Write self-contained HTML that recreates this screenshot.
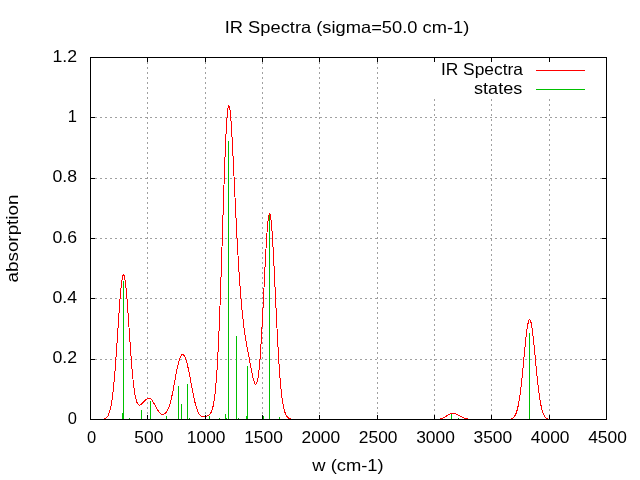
<!DOCTYPE html>
<html><head><meta charset="utf-8"><style>
html,body{margin:0;padding:0;background:#fff;}
svg{display:block;will-change:transform;}
text{font-family:"Liberation Sans",sans-serif;font-size:16.5px;fill:#000;}
</style></head><body>
<svg width="640" height="480" viewBox="0 0 640 480">
<rect width="640" height="480" fill="#fff"/>
<path d="M91 359h1v1h-1zM95 359h2v1h-2zM100 359h2v1h-2zM105 359h2v1h-2zM110 359h2v1h-2zM115 359h2v1h-2zM120 359h2v1h-2zM125 359h2v1h-2zM130 359h2v1h-2zM135 359h2v1h-2zM140 359h2v1h-2zM145 359h2v1h-2zM150 359h2v1h-2zM155 359h2v1h-2zM160 359h2v1h-2zM165 359h2v1h-2zM170 359h2v1h-2zM175 359h2v1h-2zM180 359h2v1h-2zM185 359h2v1h-2zM190 359h2v1h-2zM195 359h2v1h-2zM200 359h2v1h-2zM205 359h2v1h-2zM210 359h2v1h-2zM215 359h2v1h-2zM220 359h2v1h-2zM225 359h2v1h-2zM230 359h2v1h-2zM235 359h2v1h-2zM240 359h2v1h-2zM245 359h2v1h-2zM250 359h2v1h-2zM255 359h2v1h-2zM260 359h2v1h-2zM265 359h2v1h-2zM270 359h2v1h-2zM275 359h2v1h-2zM280 359h2v1h-2zM285 359h2v1h-2zM290 359h2v1h-2zM295 359h2v1h-2zM300 359h2v1h-2zM305 359h2v1h-2zM310 359h2v1h-2zM315 359h2v1h-2zM320 359h2v1h-2zM325 359h2v1h-2zM330 359h2v1h-2zM335 359h2v1h-2zM340 359h2v1h-2zM345 359h2v1h-2zM350 359h2v1h-2zM355 359h2v1h-2zM360 359h2v1h-2zM365 359h2v1h-2zM370 359h2v1h-2zM375 359h2v1h-2zM380 359h2v1h-2zM385 359h2v1h-2zM390 359h2v1h-2zM395 359h2v1h-2zM400 359h2v1h-2zM405 359h2v1h-2zM410 359h2v1h-2zM415 359h2v1h-2zM420 359h2v1h-2zM425 359h2v1h-2zM430 359h2v1h-2zM435 359h2v1h-2zM440 359h2v1h-2zM445 359h2v1h-2zM450 359h2v1h-2zM455 359h2v1h-2zM460 359h2v1h-2zM465 359h2v1h-2zM470 359h2v1h-2zM475 359h2v1h-2zM480 359h2v1h-2zM485 359h2v1h-2zM490 359h2v1h-2zM495 359h2v1h-2zM500 359h2v1h-2zM505 359h2v1h-2zM510 359h2v1h-2zM515 359h2v1h-2zM520 359h2v1h-2zM525 359h2v1h-2zM530 359h2v1h-2zM535 359h2v1h-2zM540 359h2v1h-2zM545 359h2v1h-2zM550 359h2v1h-2zM555 359h2v1h-2zM560 359h2v1h-2zM565 359h2v1h-2zM570 359h2v1h-2zM575 359h2v1h-2zM580 359h2v1h-2zM585 359h2v1h-2zM590 359h2v1h-2zM595 359h2v1h-2zM600 359h2v1h-2zM605 359h1v1h-1zM91 298h1v1h-1zM95 298h2v1h-2zM100 298h2v1h-2zM105 298h2v1h-2zM110 298h2v1h-2zM115 298h2v1h-2zM120 298h2v1h-2zM125 298h2v1h-2zM130 298h2v1h-2zM135 298h2v1h-2zM140 298h2v1h-2zM145 298h2v1h-2zM150 298h2v1h-2zM155 298h2v1h-2zM160 298h2v1h-2zM165 298h2v1h-2zM170 298h2v1h-2zM175 298h2v1h-2zM180 298h2v1h-2zM185 298h2v1h-2zM190 298h2v1h-2zM195 298h2v1h-2zM200 298h2v1h-2zM205 298h2v1h-2zM210 298h2v1h-2zM215 298h2v1h-2zM220 298h2v1h-2zM225 298h2v1h-2zM230 298h2v1h-2zM235 298h2v1h-2zM240 298h2v1h-2zM245 298h2v1h-2zM250 298h2v1h-2zM255 298h2v1h-2zM260 298h2v1h-2zM265 298h2v1h-2zM270 298h2v1h-2zM275 298h2v1h-2zM280 298h2v1h-2zM285 298h2v1h-2zM290 298h2v1h-2zM295 298h2v1h-2zM300 298h2v1h-2zM305 298h2v1h-2zM310 298h2v1h-2zM315 298h2v1h-2zM320 298h2v1h-2zM325 298h2v1h-2zM330 298h2v1h-2zM335 298h2v1h-2zM340 298h2v1h-2zM345 298h2v1h-2zM350 298h2v1h-2zM355 298h2v1h-2zM360 298h2v1h-2zM365 298h2v1h-2zM370 298h2v1h-2zM375 298h2v1h-2zM380 298h2v1h-2zM385 298h2v1h-2zM390 298h2v1h-2zM395 298h2v1h-2zM400 298h2v1h-2zM405 298h2v1h-2zM410 298h2v1h-2zM415 298h2v1h-2zM420 298h2v1h-2zM425 298h2v1h-2zM430 298h2v1h-2zM435 298h2v1h-2zM440 298h2v1h-2zM445 298h2v1h-2zM450 298h2v1h-2zM455 298h2v1h-2zM460 298h2v1h-2zM465 298h2v1h-2zM470 298h2v1h-2zM475 298h2v1h-2zM480 298h2v1h-2zM485 298h2v1h-2zM490 298h2v1h-2zM495 298h2v1h-2zM500 298h2v1h-2zM505 298h2v1h-2zM510 298h2v1h-2zM515 298h2v1h-2zM520 298h2v1h-2zM525 298h2v1h-2zM530 298h2v1h-2zM535 298h2v1h-2zM540 298h2v1h-2zM545 298h2v1h-2zM550 298h2v1h-2zM555 298h2v1h-2zM560 298h2v1h-2zM565 298h2v1h-2zM570 298h2v1h-2zM575 298h2v1h-2zM580 298h2v1h-2zM585 298h2v1h-2zM590 298h2v1h-2zM595 298h2v1h-2zM600 298h2v1h-2zM605 298h1v1h-1zM91 238h1v1h-1zM95 238h2v1h-2zM100 238h2v1h-2zM105 238h2v1h-2zM110 238h2v1h-2zM115 238h2v1h-2zM120 238h2v1h-2zM125 238h2v1h-2zM130 238h2v1h-2zM135 238h2v1h-2zM140 238h2v1h-2zM145 238h2v1h-2zM150 238h2v1h-2zM155 238h2v1h-2zM160 238h2v1h-2zM165 238h2v1h-2zM170 238h2v1h-2zM175 238h2v1h-2zM180 238h2v1h-2zM185 238h2v1h-2zM190 238h2v1h-2zM195 238h2v1h-2zM200 238h2v1h-2zM205 238h2v1h-2zM210 238h2v1h-2zM215 238h2v1h-2zM220 238h2v1h-2zM225 238h2v1h-2zM230 238h2v1h-2zM235 238h2v1h-2zM240 238h2v1h-2zM245 238h2v1h-2zM250 238h2v1h-2zM255 238h2v1h-2zM260 238h2v1h-2zM265 238h2v1h-2zM270 238h2v1h-2zM275 238h2v1h-2zM280 238h2v1h-2zM285 238h2v1h-2zM290 238h2v1h-2zM295 238h2v1h-2zM300 238h2v1h-2zM305 238h2v1h-2zM310 238h2v1h-2zM315 238h2v1h-2zM320 238h2v1h-2zM325 238h2v1h-2zM330 238h2v1h-2zM335 238h2v1h-2zM340 238h2v1h-2zM345 238h2v1h-2zM350 238h2v1h-2zM355 238h2v1h-2zM360 238h2v1h-2zM365 238h2v1h-2zM370 238h2v1h-2zM375 238h2v1h-2zM380 238h2v1h-2zM385 238h2v1h-2zM390 238h2v1h-2zM395 238h2v1h-2zM400 238h2v1h-2zM405 238h2v1h-2zM410 238h2v1h-2zM415 238h2v1h-2zM420 238h2v1h-2zM425 238h2v1h-2zM430 238h2v1h-2zM435 238h2v1h-2zM440 238h2v1h-2zM445 238h2v1h-2zM450 238h2v1h-2zM455 238h2v1h-2zM460 238h2v1h-2zM465 238h2v1h-2zM470 238h2v1h-2zM475 238h2v1h-2zM480 238h2v1h-2zM485 238h2v1h-2zM490 238h2v1h-2zM495 238h2v1h-2zM500 238h2v1h-2zM505 238h2v1h-2zM510 238h2v1h-2zM515 238h2v1h-2zM520 238h2v1h-2zM525 238h2v1h-2zM530 238h2v1h-2zM535 238h2v1h-2zM540 238h2v1h-2zM545 238h2v1h-2zM550 238h2v1h-2zM555 238h2v1h-2zM560 238h2v1h-2zM565 238h2v1h-2zM570 238h2v1h-2zM575 238h2v1h-2zM580 238h2v1h-2zM585 238h2v1h-2zM590 238h2v1h-2zM595 238h2v1h-2zM600 238h2v1h-2zM605 238h1v1h-1zM91 178h1v1h-1zM95 178h2v1h-2zM100 178h2v1h-2zM105 178h2v1h-2zM110 178h2v1h-2zM115 178h2v1h-2zM120 178h2v1h-2zM125 178h2v1h-2zM130 178h2v1h-2zM135 178h2v1h-2zM140 178h2v1h-2zM145 178h2v1h-2zM150 178h2v1h-2zM155 178h2v1h-2zM160 178h2v1h-2zM165 178h2v1h-2zM170 178h2v1h-2zM175 178h2v1h-2zM180 178h2v1h-2zM185 178h2v1h-2zM190 178h2v1h-2zM195 178h2v1h-2zM200 178h2v1h-2zM205 178h2v1h-2zM210 178h2v1h-2zM215 178h2v1h-2zM220 178h2v1h-2zM225 178h2v1h-2zM230 178h2v1h-2zM235 178h2v1h-2zM240 178h2v1h-2zM245 178h2v1h-2zM250 178h2v1h-2zM255 178h2v1h-2zM260 178h2v1h-2zM265 178h2v1h-2zM270 178h2v1h-2zM275 178h2v1h-2zM280 178h2v1h-2zM285 178h2v1h-2zM290 178h2v1h-2zM295 178h2v1h-2zM300 178h2v1h-2zM305 178h2v1h-2zM310 178h2v1h-2zM315 178h2v1h-2zM320 178h2v1h-2zM325 178h2v1h-2zM330 178h2v1h-2zM335 178h2v1h-2zM340 178h2v1h-2zM345 178h2v1h-2zM350 178h2v1h-2zM355 178h2v1h-2zM360 178h2v1h-2zM365 178h2v1h-2zM370 178h2v1h-2zM375 178h2v1h-2zM380 178h2v1h-2zM385 178h2v1h-2zM390 178h2v1h-2zM395 178h2v1h-2zM400 178h2v1h-2zM405 178h2v1h-2zM410 178h2v1h-2zM415 178h2v1h-2zM420 178h2v1h-2zM425 178h2v1h-2zM430 178h2v1h-2zM435 178h2v1h-2zM440 178h2v1h-2zM445 178h2v1h-2zM450 178h2v1h-2zM455 178h2v1h-2zM460 178h2v1h-2zM465 178h2v1h-2zM470 178h2v1h-2zM475 178h2v1h-2zM480 178h2v1h-2zM485 178h2v1h-2zM490 178h2v1h-2zM495 178h2v1h-2zM500 178h2v1h-2zM505 178h2v1h-2zM510 178h2v1h-2zM515 178h2v1h-2zM520 178h2v1h-2zM525 178h2v1h-2zM530 178h2v1h-2zM535 178h2v1h-2zM540 178h2v1h-2zM545 178h2v1h-2zM550 178h2v1h-2zM555 178h2v1h-2zM560 178h2v1h-2zM565 178h2v1h-2zM570 178h2v1h-2zM575 178h2v1h-2zM580 178h2v1h-2zM585 178h2v1h-2zM590 178h2v1h-2zM595 178h2v1h-2zM600 178h2v1h-2zM605 178h1v1h-1zM91 117h1v1h-1zM95 117h2v1h-2zM100 117h2v1h-2zM105 117h2v1h-2zM110 117h2v1h-2zM115 117h2v1h-2zM120 117h2v1h-2zM125 117h2v1h-2zM130 117h2v1h-2zM135 117h2v1h-2zM140 117h2v1h-2zM145 117h2v1h-2zM150 117h2v1h-2zM155 117h2v1h-2zM160 117h2v1h-2zM165 117h2v1h-2zM170 117h2v1h-2zM175 117h2v1h-2zM180 117h2v1h-2zM185 117h2v1h-2zM190 117h2v1h-2zM195 117h2v1h-2zM200 117h2v1h-2zM205 117h2v1h-2zM210 117h2v1h-2zM215 117h2v1h-2zM220 117h2v1h-2zM225 117h2v1h-2zM230 117h2v1h-2zM235 117h2v1h-2zM240 117h2v1h-2zM245 117h2v1h-2zM250 117h2v1h-2zM255 117h2v1h-2zM260 117h2v1h-2zM265 117h2v1h-2zM270 117h2v1h-2zM275 117h2v1h-2zM280 117h2v1h-2zM285 117h2v1h-2zM290 117h2v1h-2zM295 117h2v1h-2zM300 117h2v1h-2zM305 117h2v1h-2zM310 117h2v1h-2zM315 117h2v1h-2zM320 117h2v1h-2zM325 117h2v1h-2zM330 117h2v1h-2zM335 117h2v1h-2zM340 117h2v1h-2zM345 117h2v1h-2zM350 117h2v1h-2zM355 117h2v1h-2zM360 117h2v1h-2zM365 117h2v1h-2zM370 117h2v1h-2zM375 117h2v1h-2zM380 117h2v1h-2zM385 117h2v1h-2zM390 117h2v1h-2zM395 117h2v1h-2zM400 117h2v1h-2zM405 117h2v1h-2zM410 117h2v1h-2zM415 117h2v1h-2zM420 117h2v1h-2zM425 117h2v1h-2zM430 117h2v1h-2zM435 117h2v1h-2zM440 117h2v1h-2zM445 117h2v1h-2zM450 117h2v1h-2zM455 117h2v1h-2zM460 117h2v1h-2zM465 117h2v1h-2zM470 117h2v1h-2zM475 117h2v1h-2zM480 117h2v1h-2zM485 117h2v1h-2zM490 117h2v1h-2zM495 117h2v1h-2zM500 117h2v1h-2zM505 117h2v1h-2zM510 117h2v1h-2zM515 117h2v1h-2zM520 117h2v1h-2zM525 117h2v1h-2zM530 117h2v1h-2zM535 117h2v1h-2zM540 117h2v1h-2zM545 117h2v1h-2zM550 117h2v1h-2zM555 117h2v1h-2zM560 117h2v1h-2zM565 117h2v1h-2zM570 117h2v1h-2zM575 117h2v1h-2zM580 117h2v1h-2zM585 117h2v1h-2zM590 117h2v1h-2zM595 117h2v1h-2zM600 117h2v1h-2zM605 117h1v1h-1zM147 58h1v1h-1zM147 62h1v2h-1zM147 67h1v2h-1zM147 72h1v2h-1zM147 77h1v2h-1zM147 82h1v2h-1zM147 87h1v2h-1zM147 92h1v2h-1zM147 97h1v2h-1zM147 102h1v2h-1zM147 107h1v2h-1zM147 112h1v2h-1zM147 117h1v2h-1zM147 122h1v2h-1zM147 127h1v2h-1zM147 132h1v2h-1zM147 137h1v2h-1zM147 142h1v2h-1zM147 147h1v2h-1zM147 152h1v2h-1zM147 157h1v2h-1zM147 162h1v2h-1zM147 167h1v2h-1zM147 172h1v2h-1zM147 177h1v2h-1zM147 182h1v2h-1zM147 187h1v2h-1zM147 192h1v2h-1zM147 197h1v2h-1zM147 202h1v2h-1zM147 207h1v2h-1zM147 212h1v2h-1zM147 217h1v2h-1zM147 222h1v2h-1zM147 227h1v2h-1zM147 232h1v2h-1zM147 237h1v2h-1zM147 242h1v2h-1zM147 247h1v2h-1zM147 252h1v2h-1zM147 257h1v2h-1zM147 262h1v2h-1zM147 267h1v2h-1zM147 272h1v2h-1zM147 277h1v2h-1zM147 282h1v2h-1zM147 287h1v2h-1zM147 292h1v2h-1zM147 297h1v2h-1zM147 302h1v2h-1zM147 307h1v2h-1zM147 312h1v2h-1zM147 317h1v2h-1zM147 322h1v2h-1zM147 327h1v2h-1zM147 332h1v2h-1zM147 337h1v2h-1zM147 342h1v2h-1zM147 347h1v2h-1zM147 352h1v2h-1zM147 357h1v2h-1zM147 362h1v2h-1zM147 367h1v2h-1zM147 372h1v2h-1zM147 377h1v2h-1zM147 382h1v2h-1zM147 387h1v2h-1zM147 392h1v2h-1zM147 397h1v2h-1zM147 402h1v2h-1zM147 407h1v2h-1zM147 412h1v2h-1zM147 417h1v2h-1zM205 58h1v1h-1zM205 62h1v2h-1zM205 67h1v2h-1zM205 72h1v2h-1zM205 77h1v2h-1zM205 82h1v2h-1zM205 87h1v2h-1zM205 92h1v2h-1zM205 97h1v2h-1zM205 102h1v2h-1zM205 107h1v2h-1zM205 112h1v2h-1zM205 117h1v2h-1zM205 122h1v2h-1zM205 127h1v2h-1zM205 132h1v2h-1zM205 137h1v2h-1zM205 142h1v2h-1zM205 147h1v2h-1zM205 152h1v2h-1zM205 157h1v2h-1zM205 162h1v2h-1zM205 167h1v2h-1zM205 172h1v2h-1zM205 177h1v2h-1zM205 182h1v2h-1zM205 187h1v2h-1zM205 192h1v2h-1zM205 197h1v2h-1zM205 202h1v2h-1zM205 207h1v2h-1zM205 212h1v2h-1zM205 217h1v2h-1zM205 222h1v2h-1zM205 227h1v2h-1zM205 232h1v2h-1zM205 237h1v2h-1zM205 242h1v2h-1zM205 247h1v2h-1zM205 252h1v2h-1zM205 257h1v2h-1zM205 262h1v2h-1zM205 267h1v2h-1zM205 272h1v2h-1zM205 277h1v2h-1zM205 282h1v2h-1zM205 287h1v2h-1zM205 292h1v2h-1zM205 297h1v2h-1zM205 302h1v2h-1zM205 307h1v2h-1zM205 312h1v2h-1zM205 317h1v2h-1zM205 322h1v2h-1zM205 327h1v2h-1zM205 332h1v2h-1zM205 337h1v2h-1zM205 342h1v2h-1zM205 347h1v2h-1zM205 352h1v2h-1zM205 357h1v2h-1zM205 362h1v2h-1zM205 367h1v2h-1zM205 372h1v2h-1zM205 377h1v2h-1zM205 382h1v2h-1zM205 387h1v2h-1zM205 392h1v2h-1zM205 397h1v2h-1zM205 402h1v2h-1zM205 407h1v2h-1zM205 412h1v2h-1zM205 417h1v2h-1zM262 58h1v1h-1zM262 62h1v2h-1zM262 67h1v2h-1zM262 72h1v2h-1zM262 77h1v2h-1zM262 82h1v2h-1zM262 87h1v2h-1zM262 92h1v2h-1zM262 97h1v2h-1zM262 102h1v2h-1zM262 107h1v2h-1zM262 112h1v2h-1zM262 117h1v2h-1zM262 122h1v2h-1zM262 127h1v2h-1zM262 132h1v2h-1zM262 137h1v2h-1zM262 142h1v2h-1zM262 147h1v2h-1zM262 152h1v2h-1zM262 157h1v2h-1zM262 162h1v2h-1zM262 167h1v2h-1zM262 172h1v2h-1zM262 177h1v2h-1zM262 182h1v2h-1zM262 187h1v2h-1zM262 192h1v2h-1zM262 197h1v2h-1zM262 202h1v2h-1zM262 207h1v2h-1zM262 212h1v2h-1zM262 217h1v2h-1zM262 222h1v2h-1zM262 227h1v2h-1zM262 232h1v2h-1zM262 237h1v2h-1zM262 242h1v2h-1zM262 247h1v2h-1zM262 252h1v2h-1zM262 257h1v2h-1zM262 262h1v2h-1zM262 267h1v2h-1zM262 272h1v2h-1zM262 277h1v2h-1zM262 282h1v2h-1zM262 287h1v2h-1zM262 292h1v2h-1zM262 297h1v2h-1zM262 302h1v2h-1zM262 307h1v2h-1zM262 312h1v2h-1zM262 317h1v2h-1zM262 322h1v2h-1zM262 327h1v2h-1zM262 332h1v2h-1zM262 337h1v2h-1zM262 342h1v2h-1zM262 347h1v2h-1zM262 352h1v2h-1zM262 357h1v2h-1zM262 362h1v2h-1zM262 367h1v2h-1zM262 372h1v2h-1zM262 377h1v2h-1zM262 382h1v2h-1zM262 387h1v2h-1zM262 392h1v2h-1zM262 397h1v2h-1zM262 402h1v2h-1zM262 407h1v2h-1zM262 412h1v2h-1zM262 417h1v2h-1zM319 58h1v1h-1zM319 62h1v2h-1zM319 67h1v2h-1zM319 72h1v2h-1zM319 77h1v2h-1zM319 82h1v2h-1zM319 87h1v2h-1zM319 92h1v2h-1zM319 97h1v2h-1zM319 102h1v2h-1zM319 107h1v2h-1zM319 112h1v2h-1zM319 117h1v2h-1zM319 122h1v2h-1zM319 127h1v2h-1zM319 132h1v2h-1zM319 137h1v2h-1zM319 142h1v2h-1zM319 147h1v2h-1zM319 152h1v2h-1zM319 157h1v2h-1zM319 162h1v2h-1zM319 167h1v2h-1zM319 172h1v2h-1zM319 177h1v2h-1zM319 182h1v2h-1zM319 187h1v2h-1zM319 192h1v2h-1zM319 197h1v2h-1zM319 202h1v2h-1zM319 207h1v2h-1zM319 212h1v2h-1zM319 217h1v2h-1zM319 222h1v2h-1zM319 227h1v2h-1zM319 232h1v2h-1zM319 237h1v2h-1zM319 242h1v2h-1zM319 247h1v2h-1zM319 252h1v2h-1zM319 257h1v2h-1zM319 262h1v2h-1zM319 267h1v2h-1zM319 272h1v2h-1zM319 277h1v2h-1zM319 282h1v2h-1zM319 287h1v2h-1zM319 292h1v2h-1zM319 297h1v2h-1zM319 302h1v2h-1zM319 307h1v2h-1zM319 312h1v2h-1zM319 317h1v2h-1zM319 322h1v2h-1zM319 327h1v2h-1zM319 332h1v2h-1zM319 337h1v2h-1zM319 342h1v2h-1zM319 347h1v2h-1zM319 352h1v2h-1zM319 357h1v2h-1zM319 362h1v2h-1zM319 367h1v2h-1zM319 372h1v2h-1zM319 377h1v2h-1zM319 382h1v2h-1zM319 387h1v2h-1zM319 392h1v2h-1zM319 397h1v2h-1zM319 402h1v2h-1zM319 407h1v2h-1zM319 412h1v2h-1zM319 417h1v2h-1zM377 58h1v1h-1zM377 62h1v2h-1zM377 67h1v2h-1zM377 72h1v2h-1zM377 77h1v2h-1zM377 82h1v2h-1zM377 87h1v2h-1zM377 92h1v2h-1zM377 97h1v2h-1zM377 102h1v2h-1zM377 107h1v2h-1zM377 112h1v2h-1zM377 117h1v2h-1zM377 122h1v2h-1zM377 127h1v2h-1zM377 132h1v2h-1zM377 137h1v2h-1zM377 142h1v2h-1zM377 147h1v2h-1zM377 152h1v2h-1zM377 157h1v2h-1zM377 162h1v2h-1zM377 167h1v2h-1zM377 172h1v2h-1zM377 177h1v2h-1zM377 182h1v2h-1zM377 187h1v2h-1zM377 192h1v2h-1zM377 197h1v2h-1zM377 202h1v2h-1zM377 207h1v2h-1zM377 212h1v2h-1zM377 217h1v2h-1zM377 222h1v2h-1zM377 227h1v2h-1zM377 232h1v2h-1zM377 237h1v2h-1zM377 242h1v2h-1zM377 247h1v2h-1zM377 252h1v2h-1zM377 257h1v2h-1zM377 262h1v2h-1zM377 267h1v2h-1zM377 272h1v2h-1zM377 277h1v2h-1zM377 282h1v2h-1zM377 287h1v2h-1zM377 292h1v2h-1zM377 297h1v2h-1zM377 302h1v2h-1zM377 307h1v2h-1zM377 312h1v2h-1zM377 317h1v2h-1zM377 322h1v2h-1zM377 327h1v2h-1zM377 332h1v2h-1zM377 337h1v2h-1zM377 342h1v2h-1zM377 347h1v2h-1zM377 352h1v2h-1zM377 357h1v2h-1zM377 362h1v2h-1zM377 367h1v2h-1zM377 372h1v2h-1zM377 377h1v2h-1zM377 382h1v2h-1zM377 387h1v2h-1zM377 392h1v2h-1zM377 397h1v2h-1zM377 402h1v2h-1zM377 407h1v2h-1zM377 412h1v2h-1zM377 417h1v2h-1zM434 99h1v2h-1zM434 104h1v2h-1zM434 109h1v2h-1zM434 114h1v2h-1zM434 119h1v2h-1zM434 124h1v2h-1zM434 129h1v2h-1zM434 134h1v2h-1zM434 139h1v2h-1zM434 144h1v2h-1zM434 149h1v2h-1zM434 154h1v2h-1zM434 159h1v2h-1zM434 164h1v2h-1zM434 169h1v2h-1zM434 174h1v2h-1zM434 179h1v2h-1zM434 184h1v2h-1zM434 189h1v2h-1zM434 194h1v2h-1zM434 199h1v2h-1zM434 204h1v2h-1zM434 209h1v2h-1zM434 214h1v2h-1zM434 219h1v2h-1zM434 224h1v2h-1zM434 229h1v2h-1zM434 234h1v2h-1zM434 239h1v2h-1zM434 244h1v2h-1zM434 249h1v2h-1zM434 254h1v2h-1zM434 259h1v2h-1zM434 264h1v2h-1zM434 269h1v2h-1zM434 274h1v2h-1zM434 279h1v2h-1zM434 284h1v2h-1zM434 289h1v2h-1zM434 294h1v2h-1zM434 299h1v2h-1zM434 304h1v2h-1zM434 309h1v2h-1zM434 314h1v2h-1zM434 319h1v2h-1zM434 324h1v2h-1zM434 329h1v2h-1zM434 334h1v2h-1zM434 339h1v2h-1zM434 344h1v2h-1zM434 349h1v2h-1zM434 354h1v2h-1zM434 359h1v2h-1zM434 364h1v2h-1zM434 369h1v2h-1zM434 374h1v2h-1zM434 379h1v2h-1zM434 384h1v2h-1zM434 389h1v2h-1zM434 394h1v2h-1zM434 399h1v2h-1zM434 404h1v2h-1zM434 409h1v2h-1zM434 414h1v2h-1zM491 99h1v2h-1zM491 104h1v2h-1zM491 109h1v2h-1zM491 114h1v2h-1zM491 119h1v2h-1zM491 124h1v2h-1zM491 129h1v2h-1zM491 134h1v2h-1zM491 139h1v2h-1zM491 144h1v2h-1zM491 149h1v2h-1zM491 154h1v2h-1zM491 159h1v2h-1zM491 164h1v2h-1zM491 169h1v2h-1zM491 174h1v2h-1zM491 179h1v2h-1zM491 184h1v2h-1zM491 189h1v2h-1zM491 194h1v2h-1zM491 199h1v2h-1zM491 204h1v2h-1zM491 209h1v2h-1zM491 214h1v2h-1zM491 219h1v2h-1zM491 224h1v2h-1zM491 229h1v2h-1zM491 234h1v2h-1zM491 239h1v2h-1zM491 244h1v2h-1zM491 249h1v2h-1zM491 254h1v2h-1zM491 259h1v2h-1zM491 264h1v2h-1zM491 269h1v2h-1zM491 274h1v2h-1zM491 279h1v2h-1zM491 284h1v2h-1zM491 289h1v2h-1zM491 294h1v2h-1zM491 299h1v2h-1zM491 304h1v2h-1zM491 309h1v2h-1zM491 314h1v2h-1zM491 319h1v2h-1zM491 324h1v2h-1zM491 329h1v2h-1zM491 334h1v2h-1zM491 339h1v2h-1zM491 344h1v2h-1zM491 349h1v2h-1zM491 354h1v2h-1zM491 359h1v2h-1zM491 364h1v2h-1zM491 369h1v2h-1zM491 374h1v2h-1zM491 379h1v2h-1zM491 384h1v2h-1zM491 389h1v2h-1zM491 394h1v2h-1zM491 399h1v2h-1zM491 404h1v2h-1zM491 409h1v2h-1zM491 414h1v2h-1zM549 99h1v2h-1zM549 104h1v2h-1zM549 109h1v2h-1zM549 114h1v2h-1zM549 119h1v2h-1zM549 124h1v2h-1zM549 129h1v2h-1zM549 134h1v2h-1zM549 139h1v2h-1zM549 144h1v2h-1zM549 149h1v2h-1zM549 154h1v2h-1zM549 159h1v2h-1zM549 164h1v2h-1zM549 169h1v2h-1zM549 174h1v2h-1zM549 179h1v2h-1zM549 184h1v2h-1zM549 189h1v2h-1zM549 194h1v2h-1zM549 199h1v2h-1zM549 204h1v2h-1zM549 209h1v2h-1zM549 214h1v2h-1zM549 219h1v2h-1zM549 224h1v2h-1zM549 229h1v2h-1zM549 234h1v2h-1zM549 239h1v2h-1zM549 244h1v2h-1zM549 249h1v2h-1zM549 254h1v2h-1zM549 259h1v2h-1zM549 264h1v2h-1zM549 269h1v2h-1zM549 274h1v2h-1zM549 279h1v2h-1zM549 284h1v2h-1zM549 289h1v2h-1zM549 294h1v2h-1zM549 299h1v2h-1zM549 304h1v2h-1zM549 309h1v2h-1zM549 314h1v2h-1zM549 319h1v2h-1zM549 324h1v2h-1zM549 329h1v2h-1zM549 334h1v2h-1zM549 339h1v2h-1zM549 344h1v2h-1zM549 349h1v2h-1zM549 354h1v2h-1zM549 359h1v2h-1zM549 364h1v2h-1zM549 369h1v2h-1zM549 374h1v2h-1zM549 379h1v2h-1zM549 384h1v2h-1zM549 389h1v2h-1zM549 394h1v2h-1zM549 399h1v2h-1zM549 404h1v2h-1zM549 409h1v2h-1zM549 414h1v2h-1z" fill="#a0a0a0"/>
<polyline points="103.50,419.16 104.00,419.04 104.50,418.89 105.00,418.69 105.50,418.43 106.00,418.10 106.50,417.68 107.00,417.15 107.50,416.49 108.00,415.68 108.50,414.69 109.00,413.49 109.50,412.04 110.00,410.31 110.50,408.27 111.00,405.88 111.50,403.10 112.00,399.91 112.50,396.27 113.00,392.17 113.50,387.58 114.00,382.51 114.50,376.95 115.00,370.93 115.50,364.47 116.00,357.63 116.50,350.46 117.00,343.05 117.50,335.47 118.00,327.85 118.50,320.29 119.00,312.91 119.50,305.85 120.00,299.24 120.50,293.21 121.00,287.87 121.50,283.34 122.00,279.71 122.50,277.07 123.00,275.47 123.50,274.95 124.00,275.51 124.50,277.14 125.00,279.81 125.50,283.45 126.00,287.97 126.50,293.28 127.00,299.27 127.50,305.81 128.00,312.76 128.50,320.00 129.00,327.39 129.50,334.81 130.00,342.15 130.50,349.29 131.00,356.14 131.50,362.64 132.00,368.71 132.50,374.31 133.00,379.41 133.50,383.99 134.00,388.05 134.50,391.60 135.00,394.65 135.50,397.23 136.00,399.37 136.50,401.10 137.00,402.46 137.50,403.49 138.00,404.23 138.50,404.72 139.00,404.99 139.50,405.07 140.00,405.00 140.50,404.80 141.00,404.50 141.50,404.11 142.00,403.67 142.50,403.18 143.00,402.65 143.50,402.12 144.00,401.57 144.50,401.03 145.00,400.52 145.50,400.02 146.00,399.57 146.50,399.17 147.00,398.83 147.50,398.56 148.00,398.36 148.50,398.26 149.00,398.24 149.50,398.33 150.00,398.52 150.50,398.81 151.00,399.21 151.50,399.71 152.00,400.30 152.50,400.98 153.00,401.74 153.50,402.56 154.00,403.44 154.50,404.36 155.00,405.30 155.50,406.25 156.00,407.19 156.50,408.12 157.00,409.01 157.50,409.86 158.00,410.65 158.50,411.38 159.00,412.03 159.50,412.61 160.00,413.12 160.50,413.54 161.00,413.88 161.50,414.13 162.00,414.30 162.50,414.39 163.00,414.39 163.50,414.31 164.00,414.14 164.50,413.89 165.00,413.55 165.50,413.10 166.00,412.56 166.50,411.91 167.00,411.14 167.50,410.24 168.00,409.21 168.50,408.04 169.00,406.72 169.50,405.25 170.00,403.62 170.50,401.82 171.00,399.87 171.50,397.77 172.00,395.52 172.50,393.14 173.00,390.64 173.50,388.05 174.00,385.38 174.50,382.66 175.00,379.93 175.50,377.20 176.00,374.52 176.50,371.90 177.00,369.39 177.50,367.00 178.00,364.77 178.50,362.72 179.00,360.86 179.50,359.21 180.00,357.80 180.50,356.62 181.00,355.69 181.50,355.00 182.00,354.57 182.50,354.39 183.00,354.46 183.50,354.77 184.00,355.32 184.50,356.11 185.00,357.12 185.50,358.35 186.00,359.79 186.50,361.43 187.00,363.25 187.50,365.25 188.00,367.41 188.50,369.71 189.00,372.13 189.50,374.65 190.00,377.26 190.50,379.91 191.00,382.60 191.50,385.30 192.00,387.97 192.50,390.61 193.00,393.18 193.50,395.66 194.00,398.03 194.50,400.29 195.00,402.41 195.50,404.38 196.00,406.20 196.50,407.86 197.00,409.36 197.50,410.70 198.00,411.88 198.50,412.91 199.00,413.80 199.50,414.56 200.00,415.19 200.50,415.70 201.00,416.11 201.50,416.42 202.00,416.65 202.50,416.81 203.00,416.90 203.50,416.93 204.00,416.92 204.50,416.88 205.00,416.79 205.50,416.68 206.00,416.54 206.50,416.37 207.00,416.18 207.50,415.96 208.00,415.70 208.50,415.39 209.00,415.02 209.50,414.57 210.00,414.02 210.50,413.35 211.00,412.50 211.50,411.46 212.00,410.17 212.50,408.58 213.00,406.63 213.50,404.27 214.00,401.41 214.50,398.00 215.00,393.96 215.50,389.21 216.00,383.69 216.50,377.33 217.00,370.06 217.50,361.84 218.00,352.65 218.50,342.45 219.00,331.27 219.50,319.13 220.00,306.08 220.50,292.22 221.00,277.65 221.50,262.52 222.00,247.00 222.50,231.27 223.00,215.56 223.50,200.09 224.00,185.10 224.50,170.83 225.00,157.51 225.50,145.35 226.00,134.56 226.50,125.31 227.00,117.74 227.50,111.94 228.00,107.99 228.50,105.89 229.00,105.62 229.50,107.13 230.00,110.30 230.50,115.01 231.00,121.10 231.50,128.38 232.00,136.69 232.50,145.81 233.00,155.56 233.50,165.76 234.00,176.23 234.50,186.82 235.00,197.40 235.50,207.85 236.00,218.06 236.50,227.98 237.00,237.54 237.50,246.71 238.00,255.45 238.50,263.76 239.00,271.62 239.50,279.03 240.00,286.01 240.50,292.56 241.00,298.68 241.50,304.40 242.00,309.74 242.50,314.69 243.00,319.30 243.50,323.57 244.00,327.54 244.50,331.23 245.00,334.67 245.50,337.91 246.00,340.96 246.50,343.87 247.00,346.68 247.50,349.40 248.00,352.08 248.50,354.73 249.00,357.38 249.50,360.02 250.00,362.67 250.50,365.31 251.00,367.94 251.50,370.52 252.00,373.02 252.50,375.40 253.00,377.62 253.50,379.62 254.00,381.35 254.50,382.74 255.00,383.73 255.50,384.25 256.00,384.25 256.50,383.66 257.00,382.41 257.50,380.47 258.00,377.78 258.50,374.30 259.00,370.02 259.50,364.91 260.00,358.98 260.50,352.24 261.00,344.73 261.50,336.51 262.00,327.64 262.50,318.23 263.00,308.38 263.50,298.23 264.00,287.93 264.50,277.65 265.00,267.56 265.50,257.85 266.00,248.70 266.50,240.30 267.00,232.81 267.50,226.40 268.00,221.21 268.50,217.36 269.00,214.93 269.50,213.98 270.00,214.54 270.50,216.60 271.00,220.12 271.50,225.01 272.00,231.18 272.50,238.49 273.00,246.79 273.50,255.93 274.00,265.71 274.50,275.97 275.00,286.51 275.50,297.18 276.00,307.80 276.50,318.23 277.00,328.35 277.50,338.03 278.00,347.20 278.50,355.78 279.00,363.73 279.50,371.02 280.00,377.63 280.50,383.58 281.00,388.88 281.50,393.57 282.00,397.66 282.50,401.22 283.00,404.29 283.50,406.91 284.00,409.13 284.50,411.00 285.00,412.57 285.50,413.87 286.00,414.94 286.50,415.83 287.00,416.55 287.50,417.14 288.00,417.61 288.50,417.99 289.00,418.30 289.50,418.55 290.00,418.75 290.50,418.91 291.00,419.03 291.50,419.13 292.00,419.21 292.50,419.27 293.00,419.32 293.50,419.36 294.00,419.39 294.50,419.42 295.00,419.44 295.50,419.45 296.00,419.46 296.50,419.47 297.00,419.48 297.50,419.48 298.00,419.49 298.50,419.49 299.00,419.49 299.50,419.50 300.00,419.50 300.50,419.50 301.00,419.50 301.50,419.50 302.00,419.50 302.50,419.50 303.00,419.50 303.50,419.50 304.00,419.50 304.50,419.50 305.00,419.50 305.50,419.50 306.00,419.50 306.50,419.50 307.00,419.50 307.50,419.50 308.00,419.50 308.50,419.50 309.00,419.50 309.50,419.50 310.00,419.50 310.50,419.50 311.00,419.50 311.50,419.50 312.00,419.50 312.50,419.50 313.00,419.50 313.50,419.50 314.00,419.50 314.50,419.50 315.00,419.50 315.50,419.50 316.00,419.50 316.50,419.50 317.00,419.50 317.50,419.50 318.00,419.50 318.50,419.50 319.00,419.50 319.50,419.50 320.00,419.50 320.50,419.50 321.00,419.50 321.50,419.50 322.00,419.50 322.50,419.50 323.00,419.50 323.50,419.50 324.00,419.50 324.50,419.50 325.00,419.50 325.50,419.50 326.00,419.50 326.50,419.50 327.00,419.50 327.50,419.50 328.00,419.50 328.50,419.50 329.00,419.50 329.50,419.50 330.00,419.50 330.50,419.50 331.00,419.50 331.50,419.50 332.00,419.50 332.50,419.50 333.00,419.50 333.50,419.50 334.00,419.50 334.50,419.50 335.00,419.50 335.50,419.50 336.00,419.50 336.50,419.50 337.00,419.50 337.50,419.50 338.00,419.50 338.50,419.50 339.00,419.50 339.50,419.50 340.00,419.50 340.50,419.50 341.00,419.50 341.50,419.50 342.00,419.50 342.50,419.50 343.00,419.50 343.50,419.50 344.00,419.50 344.50,419.50 345.00,419.50 345.50,419.50 346.00,419.50 346.50,419.50 347.00,419.50 347.50,419.50 348.00,419.50 348.50,419.50 349.00,419.50 349.50,419.50 350.00,419.50 350.50,419.50 351.00,419.50 351.50,419.50 352.00,419.50 352.50,419.50 353.00,419.50 353.50,419.50 354.00,419.50 354.50,419.50 355.00,419.50 355.50,419.50 356.00,419.50 356.50,419.50 357.00,419.50 357.50,419.50 358.00,419.50 358.50,419.50 359.00,419.50 359.50,419.50 360.00,419.50 360.50,419.50 361.00,419.50 361.50,419.50 362.00,419.50 362.50,419.50 363.00,419.50 363.50,419.50 364.00,419.50 364.50,419.50 365.00,419.50 365.50,419.50 366.00,419.50 366.50,419.50 367.00,419.50 367.50,419.50 368.00,419.50 368.50,419.50 369.00,419.50 369.50,419.50 370.00,419.50 370.50,419.50 371.00,419.50 371.50,419.50 372.00,419.50 372.50,419.50 373.00,419.50 373.50,419.50 374.00,419.50 374.50,419.50 375.00,419.50 375.50,419.50 376.00,419.50 376.50,419.50 377.00,419.50 377.50,419.50 378.00,419.50 378.50,419.50 379.00,419.50 379.50,419.50 380.00,419.50 380.50,419.50 381.00,419.50 381.50,419.50 382.00,419.50 382.50,419.50 383.00,419.50 383.50,419.50 384.00,419.50 384.50,419.50 385.00,419.50 385.50,419.50 386.00,419.50 386.50,419.50 387.00,419.50 387.50,419.50 388.00,419.50 388.50,419.50 389.00,419.50 389.50,419.50 390.00,419.50 390.50,419.50 391.00,419.50 391.50,419.50 392.00,419.50 392.50,419.50 393.00,419.50 393.50,419.50 394.00,419.50 394.50,419.50 395.00,419.50 395.50,419.50 396.00,419.50 396.50,419.50 397.00,419.50 397.50,419.50 398.00,419.50 398.50,419.50 399.00,419.50 399.50,419.50 400.00,419.50 400.50,419.50 401.00,419.50 401.50,419.50 402.00,419.50 402.50,419.50 403.00,419.50 403.50,419.50 404.00,419.50 404.50,419.50 405.00,419.50 405.50,419.50 406.00,419.50 406.50,419.50 407.00,419.50 407.50,419.50 408.00,419.50 408.50,419.50 409.00,419.50 409.50,419.50 410.00,419.50 410.50,419.50 411.00,419.50 411.50,419.50 412.00,419.50 412.50,419.50 413.00,419.50 413.50,419.50 414.00,419.50 414.50,419.50 415.00,419.50 415.50,419.50 416.00,419.50 416.50,419.50 417.00,419.50 417.50,419.50 418.00,419.50 418.50,419.50 419.00,419.50 419.50,419.50 420.00,419.50 420.50,419.50 421.00,419.50 421.50,419.50 422.00,419.50 422.50,419.50 423.00,419.50 423.50,419.50 424.00,419.50 424.50,419.50 425.00,419.50 425.50,419.50 426.00,419.50 426.50,419.50 427.00,419.50 427.50,419.50 428.00,419.50 428.50,419.50 429.00,419.50 429.50,419.50 430.00,419.50 430.50,419.50 431.00,419.49 431.50,419.49 432.00,419.49 432.50,419.48 433.00,419.48 433.50,419.47 434.00,419.46 434.50,419.45 435.00,419.44 435.50,419.42 436.00,419.40 436.50,419.37 437.00,419.33 437.50,419.29 438.00,419.24 438.50,419.18 439.00,419.10 439.50,419.02 440.00,418.91 440.50,418.80 441.00,418.66 441.50,418.51 442.00,418.34 442.50,418.15 443.00,417.94 443.50,417.71 444.00,417.46 444.50,417.20 445.00,416.92 445.50,416.62 446.00,416.31 446.50,416.00 447.00,415.68 447.50,415.36 448.00,415.05 448.50,414.75 449.00,414.47 449.50,414.20 450.00,413.96 450.50,413.74 451.00,413.56 451.50,413.42 452.00,413.31 452.50,413.24 453.00,413.22 453.50,413.23 454.00,413.29 454.50,413.38 455.00,413.51 455.50,413.68 456.00,413.87 456.50,414.10 457.00,414.34 457.50,414.61 458.00,414.88 458.50,415.17 459.00,415.47 459.50,415.76 460.00,416.06 460.50,416.35 461.00,416.63 461.50,416.90 462.00,417.16 462.50,417.40 463.00,417.63 463.50,417.85 464.00,418.04 464.50,418.22 465.00,418.39 465.50,418.54 466.00,418.67 466.50,418.79 467.00,418.90 467.50,418.99 468.00,419.07 468.50,419.14 469.00,419.20 469.50,419.25 470.00,419.30 470.50,419.33 471.00,419.37 471.50,419.39 472.00,419.41 472.50,419.43 473.00,419.45 473.50,419.46 474.00,419.47 474.50,419.47 475.00,419.48 475.50,419.48 476.00,419.49 476.50,419.49 477.00,419.49 477.50,419.50 478.00,419.50 478.50,419.50 479.00,419.50 479.50,419.50 480.00,419.50 480.50,419.50 481.00,419.50 481.50,419.50 482.00,419.50 482.50,419.50 483.00,419.50 483.50,419.50 484.00,419.50 484.50,419.50 485.00,419.50 485.50,419.50 486.00,419.50 486.50,419.50 487.00,419.50 487.50,419.50 488.00,419.50 488.50,419.50 489.00,419.50 489.50,419.50 490.00,419.50 490.50,419.50 491.00,419.50 491.50,419.50 492.00,419.50 492.50,419.50 493.00,419.50 493.50,419.50 494.00,419.50 494.50,419.50 495.00,419.50 495.50,419.50 496.00,419.50 496.50,419.50 497.00,419.50 497.50,419.50 498.00,419.50 498.50,419.50 499.00,419.50 499.50,419.50 500.00,419.50 500.50,419.50 501.00,419.50 501.50,419.50 502.00,419.50 502.50,419.50 503.00,419.50 503.50,419.50 504.00,419.50 504.50,419.49 505.00,419.49 505.50,419.49 506.00,419.48 506.50,419.47 507.00,419.46 507.50,419.44 508.00,419.42 508.50,419.38 509.00,419.34 509.50,419.28 510.00,419.21 510.50,419.11 511.00,418.98 511.50,418.81 512.00,418.60 512.50,418.33 513.00,417.98 513.50,417.56 514.00,417.03 514.50,416.38 515.00,415.59 515.50,414.64 516.00,413.50 516.50,412.15 517.00,410.56 517.50,408.72 518.00,406.59 518.50,404.16 519.00,401.42 519.50,398.34 520.00,394.92 520.50,391.17 521.00,387.09 521.50,382.70 522.00,378.04 522.50,373.14 523.00,368.05 523.50,362.83 524.00,357.56 524.50,352.31 525.00,347.17 525.50,342.22 526.00,337.55 526.50,333.26 527.00,329.44 527.50,326.15 528.00,323.48 528.50,321.47 529.00,320.18 529.50,319.64 530.00,319.85 530.50,320.81 531.00,322.50 531.50,324.88 532.00,327.90 532.50,331.50 533.00,335.59 533.50,340.10 534.00,344.93 534.50,350.00 535.00,355.21 535.50,360.48 536.00,365.73 536.50,370.88 537.00,375.88 537.50,380.65 538.00,385.16 538.50,389.38 539.00,393.28 539.50,396.85 540.00,400.08 540.50,402.97 541.00,405.54 541.50,407.80 542.00,409.77 542.50,411.47 543.00,412.92 543.50,414.15 544.00,415.18 544.50,416.04 545.00,416.75 545.50,417.33 546.00,417.80 546.50,418.18 547.00,418.48 547.50,418.72 548.00,418.91 548.50,419.05 549.00,419.17 549.50,419.25 550.00,419.32 550.50,419.37 551.00,419.40 551.50,419.43 552.00,419.45 552.50,419.46 553.00,419.48 553.50,419.48 554.00,419.49 554.50,419.49 555.00,419.49 555.50,419.50 556.00,419.50 556.50,419.50 557.00,419.50 557.50,419.50 558.00,419.50 558.50,419.50 559.00,419.50 559.50,419.50 560.00,419.50 560.50,419.50 561.00,419.50 561.50,419.50 562.00,419.50 562.50,419.50 563.00,419.50 563.50,419.50 564.00,419.50 564.50,419.50 565.00,419.50 565.50,419.50 566.00,419.50 566.50,419.50 567.00,419.50 567.50,419.50 568.00,419.50 568.50,419.50 569.00,419.50 569.50,419.50 570.00,419.50 570.50,419.50 571.00,419.50 571.50,419.50 572.00,419.50 572.50,419.50 573.00,419.50 573.50,419.50 574.00,419.50 574.50,419.50 575.00,419.50 575.50,419.50 576.00,419.50 576.50,419.50 577.00,419.50 577.50,419.50 578.00,419.50 578.50,419.50 579.00,419.50 579.50,419.50 580.00,419.50 580.50,419.50 581.00,419.50 581.50,419.50 582.00,419.50 582.50,419.50 583.00,419.50 583.50,419.50 584.00,419.50 584.50,419.50 585.00,419.50 585.50,419.50 586.00,419.50 586.50,419.50 587.00,419.50 587.50,419.50 588.00,419.50 588.50,419.50 589.00,419.50 589.50,419.50 590.00,419.50 590.50,419.50 591.00,419.50 591.50,419.50 592.00,419.50 592.50,419.50 593.00,419.50 593.50,419.50 594.00,419.50 594.50,419.50 595.00,419.50 595.50,419.50 596.00,419.50 596.50,419.50 597.00,419.50 597.50,419.50 598.00,419.50 598.50,419.50 599.00,419.50 599.50,419.50 600.00,419.50 600.50,419.50 601.00,419.50 601.50,419.50 602.00,419.50 602.50,419.50 603.00,419.50 603.50,419.50 604.00,419.50 604.50,419.50 605.00,419.50 605.50,419.50 606.00,419.50 606.50,419.50" fill="none" stroke="#ff0000" stroke-width="1" shape-rendering="crispEdges"/>
<path d="M122 413h1v6h-1zM123 281h1v138h-1zM129 418h1v1h-1zM141 410h1v9h-1zM150 401h1v18h-1zM166 416h1v3h-1zM178 386h1v33h-1zM181 404h1v15h-1zM187 384h1v35h-1zM189 418h1v1h-1zM209 416h1v3h-1zM219 418h1v1h-1zM225 414h1v5h-1zM226 418h1v1h-1zM228 141h1v278h-1zM236 336h1v83h-1zM238 418h1v1h-1zM246 416h1v3h-1zM247 366h1v53h-1zM263 416h1v3h-1zM269 215h1v204h-1zM279 417h1v2h-1zM451 414h1v5h-1zM458 418h1v1h-1zM529 333h1v86h-1z" fill="#00c000"/>
<path d="M90 57h517v1h-517zM90 419h517v1h-517zM90 57h1v363h-1zM606 57h1v363h-1zM147 415h1v5h-1zM147 57h1v5h-1zM205 415h1v5h-1zM205 57h1v5h-1zM262 415h1v5h-1zM262 57h1v5h-1zM319 415h1v5h-1zM319 57h1v5h-1zM377 415h1v5h-1zM377 57h1v5h-1zM434 415h1v5h-1zM434 57h1v5h-1zM491 415h1v5h-1zM491 57h1v5h-1zM549 415h1v5h-1zM549 57h1v5h-1zM90 359h5v1h-5zM602 359h5v1h-5zM90 298h5v1h-5zM602 298h5v1h-5zM90 238h5v1h-5zM602 238h5v1h-5zM90 178h5v1h-5zM602 178h5v1h-5zM90 117h5v1h-5zM602 117h5v1h-5z" fill="#000"/>
<text x="91.50" y="443" text-anchor="middle">0</text><text x="148.83" y="443" text-anchor="middle" textLength="29.00" lengthAdjust="spacingAndGlyphs">500</text><text x="206.17" y="443" text-anchor="middle" textLength="38.70" lengthAdjust="spacingAndGlyphs">1000</text><text x="263.50" y="443" text-anchor="middle" textLength="38.70" lengthAdjust="spacingAndGlyphs">1500</text><text x="320.83" y="443" text-anchor="middle" textLength="38.70" lengthAdjust="spacingAndGlyphs">2000</text><text x="378.17" y="443" text-anchor="middle" textLength="38.70" lengthAdjust="spacingAndGlyphs">2500</text><text x="435.50" y="443" text-anchor="middle" textLength="38.70" lengthAdjust="spacingAndGlyphs">3000</text><text x="492.83" y="443" text-anchor="middle" textLength="38.70" lengthAdjust="spacingAndGlyphs">3500</text><text x="550.17" y="443" text-anchor="middle" textLength="38.70" lengthAdjust="spacingAndGlyphs">4000</text><text x="607.50" y="443" text-anchor="middle" textLength="38.70" lengthAdjust="spacingAndGlyphs">4500</text>
<text x="77" y="423.50" text-anchor="end">0</text><text x="77" y="363.17" text-anchor="end" textLength="24.60" lengthAdjust="spacingAndGlyphs">0.2</text><text x="77" y="302.83" text-anchor="end" textLength="24.60" lengthAdjust="spacingAndGlyphs">0.4</text><text x="77" y="242.50" text-anchor="end" textLength="24.60" lengthAdjust="spacingAndGlyphs">0.6</text><text x="77" y="182.17" text-anchor="end" textLength="24.60" lengthAdjust="spacingAndGlyphs">0.8</text><text x="77" y="121.83" text-anchor="end">1</text><text x="77" y="61.50" text-anchor="end" textLength="24.60" lengthAdjust="spacingAndGlyphs">1.2</text>
<text x="347" y="33" text-anchor="middle" textLength="244.50" lengthAdjust="spacingAndGlyphs">IR Spectra (sigma=50.0 cm-1)</text>
<text x="523" y="75" text-anchor="end" textLength="82.10" lengthAdjust="spacingAndGlyphs">IR Spectra</text>
<text x="522.3" y="94" text-anchor="end" textLength="48.30" lengthAdjust="spacingAndGlyphs">states</text>
<path d="M536 70h49v1h-49z" fill="#ff0000"/>
<path d="M536 89h49v1h-49z" fill="#00c000"/>
<text x="348" y="471" text-anchor="middle" textLength="71.40" lengthAdjust="spacingAndGlyphs">w (cm-1)</text>
<text transform="translate(18,238.5) rotate(-90)" x="0" y="0" text-anchor="middle" textLength="88.00" lengthAdjust="spacingAndGlyphs">absorption</text>
</svg>
</body></html>
